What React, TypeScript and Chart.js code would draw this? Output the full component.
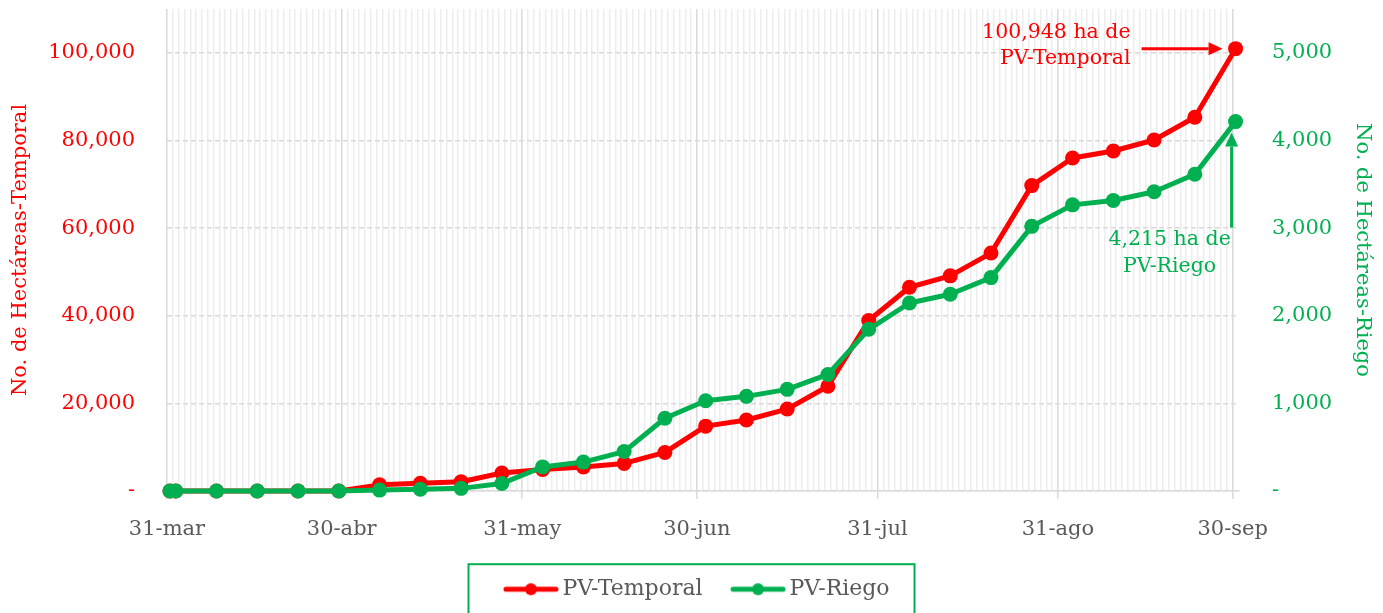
import { useEffect, useRef } from 'react';
import { Chart, registerables } from 'chart.js';

Chart.register(...registerables);

// Day offsets from 31-mar for each weekly observation
const pointDays = [0, 1, 8, 15, 22, 29, 36, 43, 50, 57, 64, 71, 78, 85, 92, 99, 106, 113, 120, 127, 134, 141, 148, 155, 162, 169, 176, 183];
const temporal = [0, 0, 0, 0, 0, 0, 1400, 1750, 2100, 4100, 4900, 5500, 6300, 8800, 14800, 16200, 18700, 23900, 38900, 46500, 49100, 54300, 69700, 76000, 77600, 80100, 85300, 100948];
const riego = [0, 0, 0, 0, 0, 0, 10, 20, 30, 85, 275, 330, 450, 830, 1030, 1080, 1160, 1330, 1845, 2145, 2245, 2435, 3020, 3265, 3315, 3415, 3614, 4215];

const monthTickDays = [0, 30, 61, 91, 122, 153, 183];
const monthTickLabels = ['31-mar', '30-abr', '31-may', '30-jun', '31-jul', '31-ago', '30-sep'];
const leftTicks = [0, 20000, 40000, 60000, 80000, 100000];
const rightTicks = [0, 1000, 2000, 3000, 4000, 5000];
const totalDays = 184;

const seriesNames = ['PV-Temporal', 'PV-Riego'];
const RED = '#ff0000';
const GREEN = '#00b050';
const GRAY = '#595959';
const FONT = "'DejaVu Serif', serif";

function makeLegendIcon(color: string) {
  const c = document.createElement('canvas');
  c.width = 75;
  c.height = 16;
  const ctx = c.getContext('2d')!;
  ctx.strokeStyle = color;
  ctx.lineWidth = 5;
  ctx.lineCap = 'round';
  ctx.beginPath();
  ctx.moveTo(21, 8);
  ctx.lineTo(71, 8);
  ctx.stroke();
  ctx.fillStyle = color;
  ctx.beginPath();
  ctx.arc(46, 8, 6, 0, Math.PI * 2);
  ctx.fill();
  return c;
}

function drawArrow(ctx: CanvasRenderingContext2D, x1: number, y1: number, x2: number, y2: number, color: string) {
  const ang = Math.atan2(y2 - y1, x2 - x1);
  const head = 14;
  const hw = 6.5;
  const cos = Math.cos(ang);
  const sin = Math.sin(ang);
  ctx.save();
  ctx.strokeStyle = color;
  ctx.lineWidth = 3;
  ctx.beginPath();
  ctx.moveTo(x1, y1);
  ctx.lineTo(x2 - head * cos, y2 - head * sin);
  ctx.stroke();
  ctx.fillStyle = color;
  ctx.beginPath();
  ctx.moveTo(x2, y2);
  ctx.lineTo(x2 - head * cos + hw * sin, y2 - head * sin - hw * cos);
  ctx.lineTo(x2 - head * cos - hw * sin, y2 - head * sin + hw * cos);
  ctx.closePath();
  ctx.fill();
  ctx.restore();
}

const annotationPlugin = {
  id: 'annotations',
  afterDatasetsDraw(chart: any) {
    const ctx: CanvasRenderingContext2D = chart.ctx;
    const redMeta = chart.getDatasetMeta(0);
    const greenMeta = chart.getDatasetMeta(1);
    const rp = redMeta.data[redMeta.data.length - 1];
    const gp = greenMeta.data[greenMeta.data.length - 1];
    ctx.save();
    ctx.font = `20.5px ${FONT}`;
    ctx.textBaseline = 'middle';
    // Temporal
    drawArrow(ctx, rp.x - 94, rp.y, rp.x - 13, rp.y, RED);
    ctx.fillStyle = RED;
    ctx.textAlign = 'right';
    ctx.fillText(`${temporal[temporal.length - 1].toLocaleString('en-US')} ha de`, rp.x - 105, rp.y - 16);
    ctx.fillText('PV-Temporal', rp.x - 105, rp.y + 10);
    // Riego
    drawArrow(ctx, gp.x - 4, gp.y + 106, gp.x - 4, gp.y + 11, GREEN);
    ctx.fillStyle = GREEN;
    ctx.textAlign = 'center';
    ctx.fillText(`${riego[riego.length - 1].toLocaleString('en-US')} ha de`, gp.x - 66, gp.y + 118);
    ctx.fillText('PV-Riego', gp.x - 66, gp.y + 145);
    ctx.restore();
  },
};

const legendBoxPlugin = {
  id: 'legendBox',
  afterDraw(chart: any) {
    const lg = chart.legend;
    if (!lg || !lg.legendHitBoxes || !lg.legendHitBoxes.length) return;
    const boxes = lg.legendHitBoxes;
    const left = Math.min(...boxes.map((b: any) => b.left));
    const right = Math.max(...boxes.map((b: any) => b.left + b.width));
    const cx = (left + right) / 2;
    const cy = boxes[0].top + boxes[0].height / 2;
    const ctx: CanvasRenderingContext2D = chart.ctx;
    ctx.save();
    ctx.strokeStyle = GREEN;
    ctx.lineWidth = 2;
    ctx.strokeRect(cx - 223, cy - 25, 446, 90);
    ctx.restore();
  },
};

export default function App() {
  const canvasRef = useRef<HTMLCanvasElement | null>(null);

  useEffect(() => {
    document.body.style.overflow = 'hidden';
    const canvas = canvasRef.current;
    if (!canvas) return;
    const icons = [makeLegendIcon(RED), makeLegendIcon(GREEN)];
    const isMonth = (v: number) => monthTickDays.indexOf(v) >= 0;

    const chart = new Chart(canvas, {
      type: 'line',
      data: {
        datasets: [
          {
            label: seriesNames[0],
            data: pointDays.map((d, i) => ({ x: d + 0.5, y: temporal[i] })),
            borderColor: RED,
            backgroundColor: RED,
            yAxisID: 'y',
            order: 1,
          },
          {
            label: seriesNames[1],
            data: pointDays.map((d, i) => ({ x: d + 0.5, y: riego[i] })),
            borderColor: GREEN,
            backgroundColor: GREEN,
            yAxisID: 'y1',
            order: 0,
          },
        ],
      },
      options: {
        animation: false,
        responsive: true,
        maintainAspectRatio: false,
        parsing: false as any,
        font: { family: FONT, size: 21 } as any,
        layout: { autoPadding: false, padding: { top: 1, bottom: 17.8, left: 0, right: 0 } },
        elements: {
          line: { borderWidth: 5, tension: 0, borderJoinStyle: 'round', borderCapStyle: 'round' },
          point: { radius: 7.5, borderWidth: 0, hoverRadius: 7.5 },
        },
        datasets: { line: { clip: false as any } },
        scales: {
          x: {
            type: 'linear',
            min: 0,
            max: totalDays,
            afterBuildTicks: (scale: any) => {
              scale.ticks = Array.from({ length: totalDays }, (_, i) => ({ value: i }));
            },
            afterFit: (scale: any) => {
              scale.paddingLeft = 0;
              scale.paddingRight = 0;
            },
            ticks: {
              autoSkip: false,
              maxRotation: 0,
              minRotation: 0,
              padding: 18,
              color: GRAY,
              font: { family: FONT, size: 21 },
              callback: (value: any) => {
                const i = monthTickDays.indexOf(Number(value));
                return i >= 0 ? monthTickLabels[i] : '';
              },
            },
            grid: {
              drawTicks: true,
              tickLength: 8,
              color: (ctx: any) => (ctx.tick && isMonth(ctx.tick.value) ? '#d9d9d9' : '#ededed'),
              lineWidth: (ctx: any) => (ctx.tick && isMonth(ctx.tick.value) ? 1.5 : 1.5),
              tickColor: (ctx: any) => (ctx.tick && isMonth(ctx.tick.value) ? '#d9d9d9' : 'rgba(0,0,0,0)'),
              tickWidth: 1.5,
            },
            border: { display: true, color: '#d9d9d9', width: 1.5 },
          },
          y: {
            type: 'linear',
            position: 'left',
            min: 0,
            max: 110000,
            afterBuildTicks: (scale: any) => {
              scale.ticks = leftTicks.map((v) => ({ value: v }));
            },
            afterFit: (scale: any) => {
              scale.width = 159;
              scale.paddingTop = 0;
              scale.paddingBottom = 0;
            },
            ticks: {
              padding: 32,
              color: RED,
              font: { family: FONT, size: 21 },
              callback: (v: any) => (Number(v) === 0 ? '-' : Number(v).toLocaleString('en-US')),
            },
            grid: { color: '#d9d9d9', lineWidth: 1.5, drawTicks: false },
            border: { display: false, dash: [5, 3] },
            title: {
              display: true,
              text: 'No. de Hectáreas-Temporal',
              color: RED,
              font: { family: FONT, size: 21 },
              padding: { top: 0, bottom: 0 },
            },
          },
          y1: {
            type: 'linear',
            position: 'right',
            min: 0,
            max: 5500,
            afterBuildTicks: (scale: any) => {
              scale.ticks = rightTicks.map((v) => ({ value: v }));
            },
            afterFit: (scale: any) => {
              scale.width = 136.5;
              scale.paddingTop = 0;
              scale.paddingBottom = 0;
            },
            ticks: {
              padding: 33.5,
              color: GREEN,
              font: { family: FONT, size: 21 },
              callback: (v: any) => (Number(v) === 0 ? '-' : Number(v).toLocaleString('en-US')),
            },
            grid: { display: false, drawTicks: false },
            border: { display: false },
            title: {
              display: true,
              text: 'No. de Hectáreas-Riego',
              color: GREEN,
              font: { family: FONT, size: 21 },
              padding: { top: 0, bottom: 0 },
            },
          },
        },
        plugins: {
          tooltip: { enabled: false },
          legend: {
            position: 'bottom',
            labels: {
              usePointStyle: true,
              pointStyleWidth: 58,
              padding: 18,
              color: GRAY,
              font: { family: FONT, size: 22 },
              generateLabels: (ch: any) =>
                ch.data.datasets.map((ds: any, i: number) => ({
                  text: ds.label,
                  datasetIndex: i,
                  pointStyle: icons[i],
                  fillStyle: ds.borderColor,
                  strokeStyle: ds.borderColor,
                  fontColor: GRAY,
                  lineWidth: 0,
                  hidden: false,
                })),
            },
          },
        },
      } as any,
      plugins: [annotationPlugin, legendBoxPlugin],
    });

    return () => chart.destroy();
  }, []);

  return (
    <div style={{ position: 'relative', width: '100%', height: 620 }}>
      <canvas ref={canvasRef} />
    </div>
  );
}
